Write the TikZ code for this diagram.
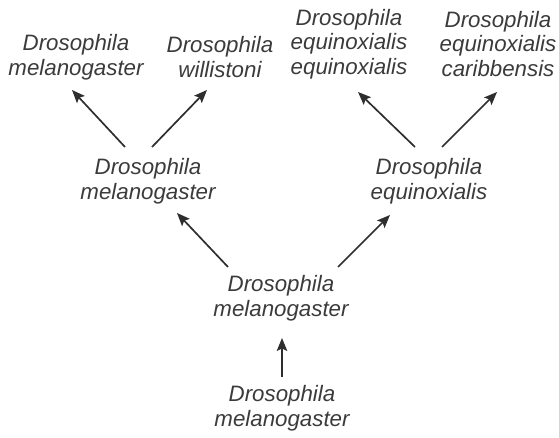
\documentclass[tikz,border=0pt]{standalone}
\usepackage{fontspec}
\setmainfont{Liberation Sans}
\usetikzlibrary{arrows.meta}

\begin{document}
\begin{tikzpicture}[x=1pt, y=-1pt, >={Stealth[length=13pt,width=10.5pt,inset=2.5pt]},
  every node/.style={align=center, inner sep=0pt, text=black!77,
    font=\fontsize{22.3}{24.5}\selectfont\itshape},
  link/.style={->, line width=1.7pt, draw=black!82}]
\useasboundingbox (0,0) rectangle (559,438);
\node (mel2) at (76,57) {Drosophila\\melanogaster};
\node (wil) at (220,57) {Drosophila\\willistoni};
\node (equeq) at (349,44) {Drosophila\\equinoxialis\\equinoxialis};
\node (equcar) at (498,44) {Drosophila\\equinoxialis\\caribbensis};
\node (mel1) at (148,181) {Drosophila\\melanogaster};
\node (equ) at (429,181) {Drosophila\\equinoxialis};
\node (mel0) at (281,298) {Drosophila\\melanogaster};
\node (root) at (282,408) {Drosophila\\melanogaster};
\draw[link] ([shift={(-23,-34)}]mel1.center) -- ([shift={(-4,33)}]mel2.center);
\draw[link] ([shift={(4,-34)}]mel1.center) -- ([shift={(-13,33)}]wil.center);
\draw[link] ([shift={(-14,-34)}]equ.center) -- ([shift={(9,48)}]equeq.center);
\draw[link] ([shift={(13,-34)}]equ.center) -- ([shift={(-1,48)}]equcar.center);
\draw[link] ([shift={(-53,-31)}]mel0.center) -- ([shift={(29,32)}]mel1.center);
\draw[link] ([shift={(57,-31)}]mel0.center) -- ([shift={(-39,34)}]equ.center);
\draw[link] ([shift={(0,-31)}]root.center) -- ([shift={(1,40)}]mel0.center);
\end{tikzpicture}
\end{document}
